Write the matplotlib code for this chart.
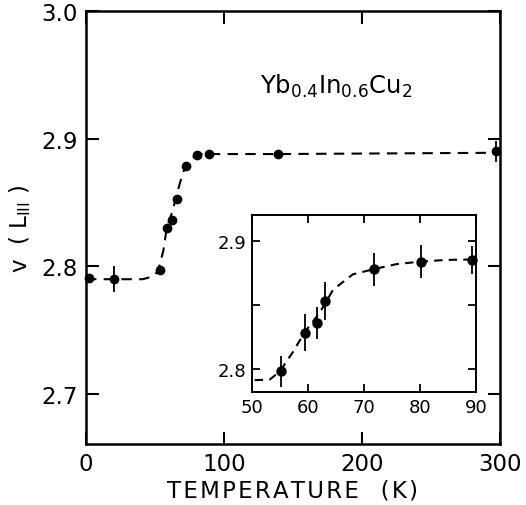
import numpy as np
import matplotlib

matplotlib.use('Agg')

import matplotlib.pyplot as plt

plt.rcParams['font.family'] = 'DejaVu Sans'
plt.rcParams['mathtext.fontset'] = 'dejavusans'

# main panel: valence vs temperature
temp = [2.0, 20.0, 53.6, 58.5, 62.6, 65.7, 72.2, 80.2, 89.1, 138.9, 296.9]
valence = [2.791, 2.790, 2.797, 2.830, 2.836, 2.853, 2.879, 2.887, 2.888, 2.888, 2.890]
valence_err = [0, 0.010, 0, 0, 0, 0, 0, 0, 0, 0, 0.008]
temp_err = [0, 4.0, 0, 0, 0, 0, 0, 0, 0, 0, 0]

# guide-to-the-eye dashed curve
curve_t = [0, 20, 41, 48, 52, 56, 58.5, 62.6, 65.7, 69.3, 72.5, 77, 84, 140, 300]
curve_v = [2.790, 2.790, 2.790, 2.792, 2.796, 2.812, 2.830, 2.843, 2.856, 2.870,
           2.880, 2.885, 2.888, 2.888, 2.889]

# inset: zoom on the transition
inset_t = [55.1, 59.4, 61.6, 63.0, 71.7, 80.1, 89.3]
inset_v = [2.798, 2.828, 2.836, 2.853, 2.878, 2.884, 2.885]
inset_err = [0.012, 0.0145, 0.0125, 0.015, 0.013, 0.013, 0.011]

inset_curve_t = [50.5, 53.2, 55.0, 57.3, 59.4, 62.1, 64.5, 68.0, 71.7, 75.8, 80.1, 84.7, 89.9]
inset_curve_v = [2.791, 2.7915, 2.798, 2.813, 2.8285, 2.844, 2.862, 2.874, 2.878,
                 2.882, 2.884, 2.8853, 2.8857]

fig = plt.figure(figsize=(5.26, 5.06), dpi=100)
ax1 = fig.add_axes([0.1635, 0.1206, 0.787, 0.8557])

ax1.plot(curve_t, curve_v, color='k', lw=1.5, dashes=(5, 3.5))
ax1.errorbar(temp, valence, yerr=valence_err, xerr=temp_err, fmt='o', color='k',
             ms=6, elinewidth=1.3, capsize=0, clip_on=False, zorder=3)

ax1.set_xlim(0, 300)
ax1.set_ylim(2.661, 3.0)
ax1.set_xticks([0, 100, 200, 300])
ax1.set_yticks([2.7, 2.8, 2.9, 3.0])
ax1.set_yticklabels(['2.7', '2.8', '2.9', '3.0'])
ax1.tick_params(direction='in', length=9, width=1.5, labelsize=16.5,
                top=True, right=True, pad=6)
for s in ax1.spines.values():
    s.set_linewidth(1.8)

hs = '\u200a'
xlabel = hs.join('TEMPERATURE') + '   (' + hs + 'K' + hs + ')'
ax1.set_xlabel(xlabel, fontsize=16.5, labelpad=2)
ax1.set_ylabel(r'v  ( L$_{\mathrm{III}}$ )', fontsize=16.5, labelpad=6)
ax1.text(0.42, 0.827, r'Yb$_{0.4}$In$_{0.6}$Cu$_2$', transform=ax1.transAxes,
         fontsize=17.5, va='center')

ax2 = fig.add_axes([0.479, 0.2233, 0.426, 0.350])
ax2.plot(inset_curve_t, inset_curve_v, color='k', lw=1.5, dashes=(4, 3))
ax2.errorbar(inset_t, inset_v, yerr=inset_err, fmt='o', color='k', ms=6.5,
             elinewidth=1.3, capsize=0, clip_on=False, zorder=3)
ax2.set_xlim(50, 90)
ax2.set_ylim(2.7817, 2.9206)
ax2.set_xticks([50, 60, 70, 80, 90])
ax2.set_yticks([2.8, 2.85, 2.9])
ax2.set_yticklabels(['2.8', '', '2.9'])
ax2.tick_params(direction='in', length=6, width=1.3, labelsize=13,
                top=True, right=True, pad=4)
for s in ax2.spines.values():
    s.set_linewidth(1.4)

plt.savefig('out.png', dpi=100)
